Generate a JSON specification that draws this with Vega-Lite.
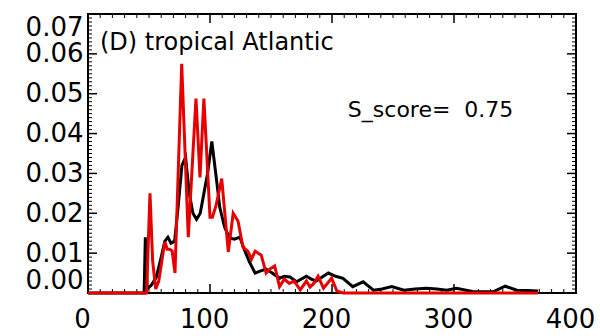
{
  "$schema": "https://vega.github.io/schema/vega-lite/v6.json",
  "width": 488,
  "height": 279,
  "autosize": {"type": "none"},
  "padding": {"left": 88, "top": 14, "right": 24, "bottom": 43},
  "background": "white",
  "config": {
    "view": {"stroke": "black", "strokeWidth": 2},
    "axis": {"grid": false, "ticks": false, "labelFont": "DejaVu Sans", "labelColor": "black", "domain": false, "title": null}
  },
  "datasets": {
    "obs": [
      {"x": 0, "y": 0}, {"x": 44, "y": 0}, {"x": 46, "y": 0}, {"x": 47, "y": 0.014}, {"x": 48.5, "y": 0.001},
      {"x": 52, "y": 0.002}, {"x": 56, "y": 0.004}, {"x": 60, "y": 0.009}, {"x": 63, "y": 0.013}, {"x": 65.5, "y": 0.014},
      {"x": 68, "y": 0.0125}, {"x": 71, "y": 0.013}, {"x": 74, "y": 0.022}, {"x": 77, "y": 0.032}, {"x": 80, "y": 0.034},
      {"x": 83, "y": 0.025}, {"x": 86, "y": 0.02}, {"x": 89, "y": 0.0185}, {"x": 92, "y": 0.02}, {"x": 95, "y": 0.025},
      {"x": 98, "y": 0.03}, {"x": 101.5, "y": 0.038}, {"x": 105.5, "y": 0.028}, {"x": 108, "y": 0.0215}, {"x": 112, "y": 0.0165},
      {"x": 116, "y": 0.0138}, {"x": 120, "y": 0.0135}, {"x": 124.5, "y": 0.014}, {"x": 128, "y": 0.011}, {"x": 132, "y": 0.008},
      {"x": 137, "y": 0.005}, {"x": 141, "y": 0.0055}, {"x": 146, "y": 0.006}, {"x": 151, "y": 0.005}, {"x": 157, "y": 0.0037},
      {"x": 161, "y": 0.0042}, {"x": 165.5, "y": 0.004}, {"x": 171, "y": 0.0028}, {"x": 175, "y": 0.0035}, {"x": 179, "y": 0.0042},
      {"x": 183, "y": 0.0035}, {"x": 187, "y": 0.003}, {"x": 192, "y": 0.004}, {"x": 197, "y": 0.005}, {"x": 203, "y": 0.0042},
      {"x": 209, "y": 0.0037}, {"x": 217, "y": 0.0016}, {"x": 225.5, "y": 0.0028}, {"x": 234, "y": 0.0007}, {"x": 241, "y": 0.001},
      {"x": 249, "y": 0.0016}, {"x": 259, "y": 0.0007}, {"x": 268, "y": 0.001}, {"x": 277.5, "y": 0.0012}, {"x": 286, "y": 0.001},
      {"x": 294, "y": 0.0007}, {"x": 302, "y": 0.0012}, {"x": 316, "y": 0.0003}, {"x": 332, "y": 0.0003}, {"x": 342, "y": 0.0017},
      {"x": 351.5, "y": 0.0007}, {"x": 360, "y": 0.0006}, {"x": 369, "y": 0.0005}
    ],
    "model": [
      {"x": 0, "y": 0}, {"x": 48, "y": 0}, {"x": 50.8, "y": 0.025}, {"x": 53, "y": 0.008}, {"x": 55.5, "y": 0.001},
      {"x": 58, "y": 0.003}, {"x": 61, "y": 0.009}, {"x": 63, "y": 0.0128}, {"x": 65, "y": 0.011}, {"x": 67, "y": 0.011},
      {"x": 69, "y": 0.0105}, {"x": 71.3, "y": 0.005}, {"x": 76.8, "y": 0.0575}, {"x": 82.2, "y": 0.014}, {"x": 88.5, "y": 0.0488},
      {"x": 91.8, "y": 0.029}, {"x": 95, "y": 0.0488}, {"x": 100, "y": 0.019}, {"x": 102, "y": 0.019}, {"x": 105, "y": 0.022},
      {"x": 109.6, "y": 0.0287}, {"x": 115, "y": 0.0103}, {"x": 119, "y": 0.02}, {"x": 123, "y": 0.018}, {"x": 127, "y": 0.0115},
      {"x": 131, "y": 0.0105}, {"x": 134, "y": 0.0085}, {"x": 137, "y": 0.0105}, {"x": 142, "y": 0.0095}, {"x": 146, "y": 0.005},
      {"x": 149, "y": 0.006}, {"x": 153, "y": 0.0068}, {"x": 157, "y": 0.0016}, {"x": 161, "y": 0.0035}, {"x": 165, "y": 0.0024},
      {"x": 169, "y": 0.003}, {"x": 174, "y": 0.0008}, {"x": 179, "y": 0.003}, {"x": 182, "y": 0.0015}, {"x": 185, "y": 0.0024},
      {"x": 188.6, "y": 0.0042}, {"x": 193, "y": 0.0012}, {"x": 199.7, "y": 0.0037}, {"x": 204, "y": 0.0005}, {"x": 209, "y": 0},
      {"x": 369, "y": 0}
    ],
    "xmaj": [{"v": 0}, {"v": 100}, {"v": 200}, {"v": 300}, {"v": 400}],
    "xmin": [{"v":10},{"v":20},{"v":30},{"v":40},{"v":50},{"v":60},{"v":70},{"v":80},{"v":90},{"v":110},{"v":120},{"v":130},{"v":140},{"v":150},{"v":160},{"v":170},{"v":180},{"v":190},{"v":210},{"v":220},{"v":230},{"v":240},{"v":250},{"v":260},{"v":270},{"v":280},{"v":290},{"v":310},{"v":320},{"v":330},{"v":340},{"v":350},{"v":360},{"v":370},{"v":380},{"v":390}],
    "ymaj": [{"v": 0}, {"v": 0.01}, {"v": 0.02}, {"v": 0.03}, {"v": 0.04}, {"v": 0.05}, {"v": 0.06}, {"v": 0.07}],
    "ymin": [{"v":0.001},{"v":0.002},{"v":0.003},{"v":0.004},{"v":0.005},{"v":0.006},{"v":0.007},{"v":0.008},{"v":0.009},{"v":0.011},{"v":0.012},{"v":0.013},{"v":0.014},{"v":0.015},{"v":0.016},{"v":0.017},{"v":0.018},{"v":0.019},{"v":0.021},{"v":0.022},{"v":0.023},{"v":0.024},{"v":0.025},{"v":0.026},{"v":0.027},{"v":0.028},{"v":0.029},{"v":0.031},{"v":0.032},{"v":0.033},{"v":0.034},{"v":0.035},{"v":0.036},{"v":0.037},{"v":0.038},{"v":0.039},{"v":0.041},{"v":0.042},{"v":0.043},{"v":0.044},{"v":0.045},{"v":0.046},{"v":0.047},{"v":0.048},{"v":0.049},{"v":0.051},{"v":0.052},{"v":0.053},{"v":0.054},{"v":0.055},{"v":0.056},{"v":0.057},{"v":0.058},{"v":0.059},{"v":0.061},{"v":0.062},{"v":0.063},{"v":0.064},{"v":0.065},{"v":0.066},{"v":0.067},{"v":0.068},{"v":0.069}]
  },
  "layer": [
    {
      "data": {"name": "xmaj"},
      "mark": {"type": "tick", "orient": "vertical", "size": 9, "thickness": 1.5, "color": "black", "opacity": 1, "yOffset": -4.5},
      "encoding": {
        "x": {"field": "v", "type": "quantitative", "scale": {"domain": [0, 400], "nice": false, "zero": false},
          "axis": {"orient": "bottom", "values": [0, 100, 200, 300, 400], "labelPadding": 13, "labelFlush": false, "labelOffset": -6, "labelFontSize": 26}},
        "y": {"datum": 0, "type": "quantitative", "scale": {"domain": [0, 0.07], "nice": false, "zero": false},
          "axis": {"orient": "left", "values": [0, 0.01, 0.02, 0.03, 0.04, 0.05, 0.06, 0.07], "format": ".2f", "labelFlush": true, "labelPadding": 5, "labelFontSize": 26}}
      }
    },
    {
      "data": {"name": "xmaj"},
      "mark": {"type": "tick", "orient": "vertical", "size": 9, "thickness": 1.5, "color": "black", "opacity": 1, "yOffset": 4.5},
      "encoding": {"x": {"field": "v", "type": "quantitative", "axis": null}, "y": {"datum": 0.07, "type": "quantitative", "axis": null}}
    },
    {
      "data": {"name": "xmin"},
      "mark": {"type": "tick", "orient": "vertical", "size": 4, "thickness": 1, "color": "black", "opacity": 1, "yOffset": -2},
      "encoding": {"x": {"field": "v", "type": "quantitative", "axis": null}, "y": {"datum": 0, "type": "quantitative", "axis": null}}
    },
    {
      "data": {"name": "xmin"},
      "mark": {"type": "tick", "orient": "vertical", "size": 4, "thickness": 1, "color": "black", "opacity": 1, "yOffset": 2},
      "encoding": {"x": {"field": "v", "type": "quantitative", "axis": null}, "y": {"datum": 0.07, "type": "quantitative", "axis": null}}
    },
    {
      "data": {"name": "ymaj"},
      "mark": {"type": "tick", "orient": "horizontal", "size": 9, "thickness": 1.5, "color": "black", "opacity": 1, "xOffset": 4.5},
      "encoding": {"y": {"field": "v", "type": "quantitative", "axis": null}, "x": {"datum": 0, "type": "quantitative", "axis": null}}
    },
    {
      "data": {"name": "ymaj"},
      "mark": {"type": "tick", "orient": "horizontal", "size": 9, "thickness": 1.5, "color": "black", "opacity": 1, "xOffset": -4.5},
      "encoding": {"y": {"field": "v", "type": "quantitative", "axis": null}, "x": {"datum": 400, "type": "quantitative", "axis": null}}
    },
    {
      "data": {"name": "ymin"},
      "mark": {"type": "tick", "orient": "horizontal", "size": 4, "thickness": 1, "color": "black", "opacity": 1, "xOffset": 2},
      "encoding": {"y": {"field": "v", "type": "quantitative", "axis": null}, "x": {"datum": 0, "type": "quantitative", "axis": null}}
    },
    {
      "data": {"name": "ymin"},
      "mark": {"type": "tick", "orient": "horizontal", "size": 4, "thickness": 1, "color": "black", "opacity": 1, "xOffset": -2},
      "encoding": {"y": {"field": "v", "type": "quantitative", "axis": null}, "x": {"datum": 400, "type": "quantitative", "axis": null}}
    },
    {
      "data": {"name": "obs"},
      "mark": {"type": "line", "color": "black", "strokeWidth": 3},
      "encoding": {
        "x": {"field": "x", "type": "quantitative", "axis": null},
        "y": {"field": "y", "type": "quantitative", "axis": null}
      }
    },
    {
      "data": {"name": "model"},
      "mark": {"type": "line", "color": "#e60000", "strokeWidth": 3},
      "encoding": {
        "x": {"field": "x", "type": "quantitative", "axis": null},
        "y": {"field": "y", "type": "quantitative", "axis": null}
      }
    },
    {
      "data": {"values": [{"label": "(D) tropical Atlantic"}]},
      "mark": {"type": "text", "font": "DejaVu Sans", "fontSize": 24, "align": "left", "baseline": "middle", "color": "black"},
      "encoding": {
        "text": {"field": "label"},
        "x": {"datum": 9.8, "type": "quantitative", "axis": null},
        "y": {"datum": 0.0628, "type": "quantitative", "axis": null}
      }
    },
    {
      "data": {"values": [{"label": "S_score=\u00a0 0.75"}]},
      "mark": {"type": "text", "font": "DejaVu Sans", "fontSize": 22, "align": "left", "baseline": "middle", "color": "black"},
      "encoding": {
        "text": {"field": "label"},
        "x": {"datum": 213, "type": "quantitative", "axis": null},
        "y": {"datum": 0.0458, "type": "quantitative", "axis": null}
      }
    }
  ],
  "resolve": {"axis": {"x": "independent", "y": "independent"}}
}
